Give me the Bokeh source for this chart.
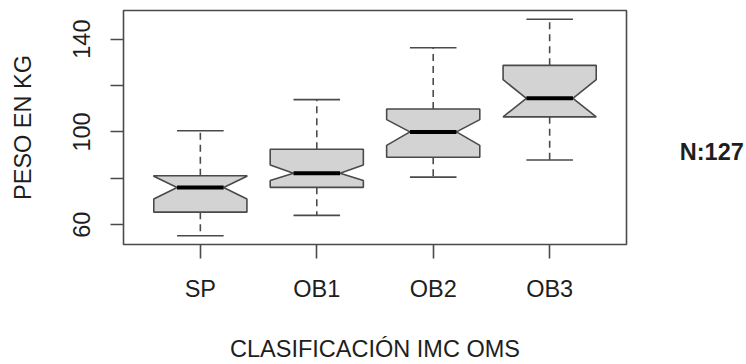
from bokeh.plotting import figure
from bokeh.layouts import row
from bokeh.models import FixedTicker, Range1d, ColumnDataSource
from bokeh.core.properties import value
from bokeh.embed import file_html
from bokeh.resources import INLINE

categories = ["SP", "OB1", "OB2", "OB3"]
whisk_lo = [55.2, 64.0, 80.5, 87.9]
q1 = [65.4, 76.1, 89.1, 106.5]
notch_lo = [71.1, 79.0, 94.2, 106.5]
median = [76.0, 82.2, 100.0, 114.5]
notch_hi = [80.9, 85.7, 105.3, 122.5]
q3 = [81.1, 92.5, 109.9, 128.7]
whisk_hi = [100.5, 113.9, 136.3, 148.6]
y_ticks = [60, 80, 100, 120, 140]
y_tick_labels = ["60", "", "100", "", "140"]
n_text = ["N:127"]

FONT = "Liberation Sans"
FS = "23.5px"
TXT = "#1e1e1e"
LINE = "#4a4a4a"

p = figure(width=628, height=364, output_backend="svg", toolbar_location=None,
           x_range=Range1d(0.34, 4.66), y_range=Range1d(51.45, 152.35),
           min_border_left=123, min_border_right=2, min_border_top=10,
           min_border_bottom=118)
p.xgrid.visible = False
p.ygrid.visible = False
p.outline_line_color = LINE
p.outline_line_width = 1.6
p.background_fill_color = "white"
p.border_fill_color = "white"

xs_pos = list(range(1, len(categories) + 1))
w = 0.4

# notched boxes
pxs, pys = [], []
for i, x in enumerate(xs_pos):
    pxs.append([x - w, x - w, x - w / 2, x - w, x - w, x + w, x + w, x + w / 2, x + w, x + w])
    pys.append([q1[i], notch_lo[i], median[i], notch_hi[i], q3[i], q3[i], notch_hi[i], median[i], notch_lo[i], q1[i]])

src = ColumnDataSource(dict(x=xs_pos, lo=whisk_lo, q1=q1, med=median, q3=q3, hi=whisk_hi,
                            xl=[x - w / 2 for x in xs_pos], xr=[x + w / 2 for x in xs_pos]))

# whiskers
p.segment(x0="x", y0="q3", x1="x", y1="hi", source=src, line_color=LINE, line_width=1.6, line_dash="7 5")
p.segment(x0="x", y0="q1", x1="x", y1="lo", source=src, line_color=LINE, line_width=1.6, line_dash="7 5")
# caps
p.segment(x0="xl", y0="hi", x1="xr", y1="hi", source=src, line_color=LINE, line_width=1.6)
p.segment(x0="xl", y0="lo", x1="xr", y1="lo", source=src, line_color=LINE, line_width=1.6)
# boxes
p.patches(pxs, pys, fill_color="#d3d3d3", line_color=LINE, line_width=1.6)
# medians
p.segment(x0="xl", y0="med", x1="xr", y1="med", source=src, line_color="black", line_width=4)

# axes
xa = p.xaxis[0]
xa.ticker = FixedTicker(ticks=xs_pos)
xa.major_label_overrides = {x: c for x, c in zip(xs_pos, categories)}
ya = p.yaxis[0]
ya.ticker = FixedTicker(ticks=y_ticks)
ya.major_label_overrides = {t: l for t, l in zip(y_ticks, y_tick_labels)}
ya.major_label_orientation = "vertical"

for ax in (xa, ya):
    ax.axis_line_color = None
    ax.minor_tick_line_color = None
    ax.major_tick_in = 0
    ax.major_tick_out = 14
    ax.major_tick_line_color = LINE
    ax.major_tick_line_width = 1.6
    ax.major_label_text_font = FONT
    ax.major_label_text_font_size = FS
    ax.major_label_text_color = TXT
    ax.axis_label_text_font = FONT
    ax.axis_label_text_font_size = FS
    ax.axis_label_text_font_style = "normal"
    ax.axis_label_text_color = TXT

xa.axis_label = "CLASIFICACIÓN IMC OMS"
xa.major_label_standoff = 17
xa.axis_label_standoff = 31
ya.major_tick_out = 13
ya.axis_label = "PESO EN KG"
ya.major_label_standoff = 20
ya.axis_label_standoff = 35

# side panel with the sample size note (shares the main y scale)
p2 = figure(width=118, height=364, output_backend="svg", toolbar_location=None,
            x_range=Range1d(0, 118), y_range=p.y_range,
            min_border=0, min_border_left=0, min_border_right=0,
            min_border_top=0, min_border_bottom=0)
p2.axis.visible = False
p2.grid.visible = False
p2.outline_line_color = None
p2.background_fill_color = "white"
p2.border_fill_color = "white"
p2.text(x=[51.3], y=[91.2], text=n_text, text_font=value(FONT), text_font_size=FS,
        text_font_style="bold", text_color=TXT, text_baseline="alphabetic", text_align="left")

layout = row(p, p2)
open("out.html", "w").write(file_html(layout, INLINE))
